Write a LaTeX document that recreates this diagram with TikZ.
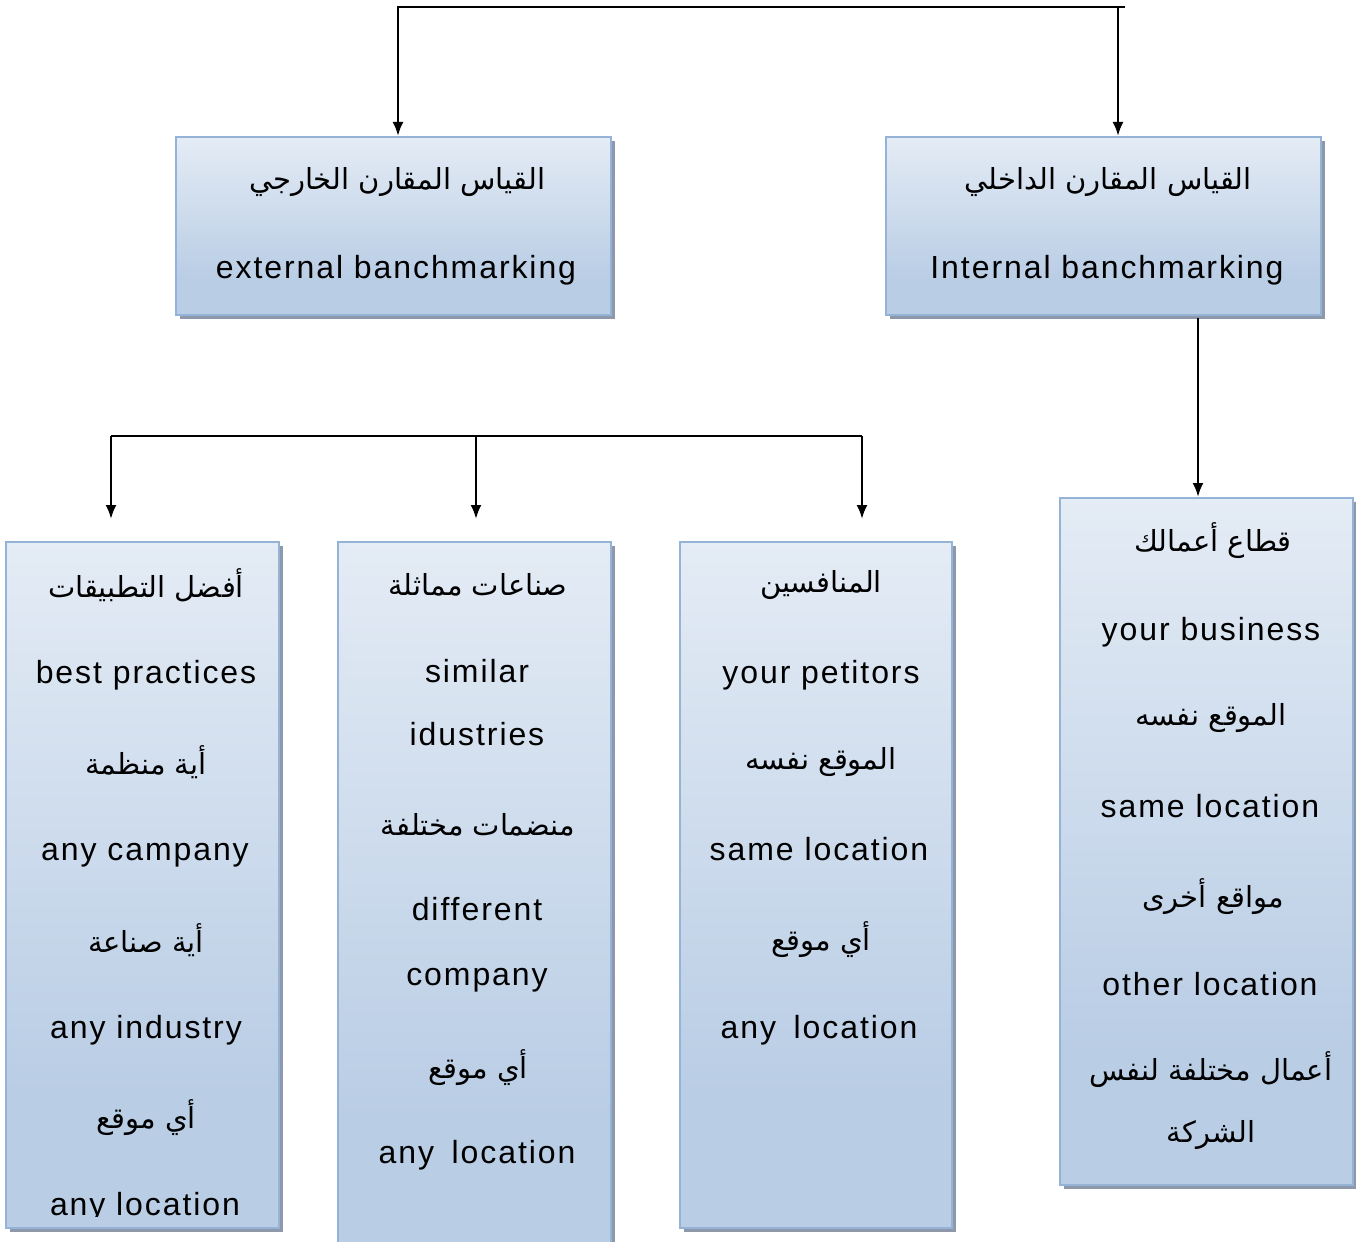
\documentclass[tikz,border=0pt]{standalone}
\usepackage{fontspec}
\setmainfont{Liberation Sans}[LetterSpace=6]
\newfontfamily\arabicfont[Script=Arabic]{DejaVu Sans}
\TeXXeTstate=1
\usetikzlibrary{arrows.meta,shadows}
\definecolor{boxblue}{HTML}{B9CDE5}
\definecolor{boxborder}{HTML}{95B3D7}
\definecolor{shadowgray}{HTML}{8D99AB}
\pgfdeclareverticalshading{boxshade}{100bp}{color(0bp)=(boxblue); color(35bp)=(boxblue); color(100bp)=(white)}
\tikzset{
  box/.style={draw=boxborder, line width=2pt, shading=boxshade, rectangle,
    drop shadow={shadow xshift=4pt, shadow yshift=-4pt, opacity=1, fill=shadowgray}},
  en/.style={font=\fontsize{32}{38}\selectfont, text height=0.72em, text depth=0.2em, inner sep=0pt, yshift=-8pt},
  ar/.style={font=\arabicfont\fontsize{29}{34}\selectfont, inner sep=0pt},
  arr/.style={line width=2.4pt, -{Latex[length=14pt,width=11pt]}},
  ln/.style={line width=2.4pt}
}
\newcommand{\AR}[1]{\beginR #1\endR}
\begin{document}
\begin{tikzpicture}[x=1pt,y=-1pt]
\useasboundingbox (0,0) rectangle (1356,1241);
% boxes
\node[box, minimum width=435pt, minimum height=178pt] (ext) at (393.5,226) {};
\node[box, minimum width=435pt, minimum height=178pt] (int) at (1103.5,226) {};
\node[box, minimum width=293pt, minimum height=687pt] (bus) at (1206.5,841.5) {};
\node[box, minimum width=273pt, minimum height=686pt] (bp) at (142.5,885) {};
\node[box, minimum width=273pt, minimum height=716pt] (sim) at (474.5,900) {};
\node[box, minimum width=272pt, minimum height=686pt] (comp) at (816,885) {};
% connectors
\coordinate (topR) at (1125,7);
\coordinate (topM) at (1118,7);
\draw[arr] (topR) -| ([xshift=4.5pt]ext.north);
\draw[arr] (topM) -- ([xshift=14.5pt]int.north);
\draw[arr] ([xshift=94.5pt,yshift=-2pt]int.south) -- ([xshift=-8.5pt]bus.north);
\coordinate (b1) at (111,436);
\coordinate (b2) at (476,436);
\coordinate (b3) at (862,436);
\coordinate (a1) at (111,519);
\coordinate (a2) at (476,519);
\coordinate (a3) at (862,519);
\draw[ln] (a1 |- b1) -- (b3);
\draw[arr] (b1) -- (a1);
\draw[arr] (b2) -- (a2);
\draw[arr] (b3) -- (a3);
% texts top boxes
\node[ar] (ext1) at (397,182) {\AR{القياس المقارن الخارجي}};
\node[en] (ext2) at (396,268) {external banchmarking};
\node[ar] (int1) at (1108,182) {\AR{القياس المقارن الداخلي}};
\node[en] (int2) at (1107,268) {Internal banchmarking};
% best practices
\node[ar] (bp1) at (146,585) {\AR{أفضل التطبيقات}};
\node[en] (bp2) at (146,673) {best practices};
\node[ar] (bp3) at (146,762) {\AR{أية منظمة}};
\node[en] (bp4) at (145,850) {any campany};
\node[ar] (bp5) at (146,940) {\AR{أية صناعة}};
\node[en] (bp6) at (146,1028) {any industry};
\node[ar] (bp7) at (146,1118) {\AR{أي موقع}};
\begin{scope}
\clip (6,542) rectangle (279,1216);
\node[en] (bp8) at (145,1205) {any location};
\end{scope}
% similar
\node[ar] (sim1) at (478,585) {\AR{صناعات مماثلة}};
\node[en] (sim2) at (477,672) {similar};
\node[en] (sim3) at (477,735) {idustries};
\node[ar] (sim4) at (478,825) {\AR{منضمات مختلفة}};
\node[en] (sim5) at (477,910) {different};
\node[en] (sim6) at (477,975) {company};
\node[ar] (sim7) at (478,1068) {\AR{أي موقع}};
\node[en] (sim8) at (477,1153) {any\hspace{0.55em}location};
% competitors
\node[ar] (comp1) at (821,585) {\AR{المنافسين}};
\node[en] (comp2) at (821,673) {your petitors};
\node[ar] (comp3) at (821,762) {\AR{الموقع نفسه}};
\node[en] (comp4) at (819,850) {same location};
\node[ar] (comp5) at (821,940) {\AR{أي موقع}};
\node[en] (comp6) at (819,1028) {any\hspace{0.55em}location};
% business
\node[ar] (bus1) at (1213,541) {\AR{قطاع أعمالك}};
\node[en] (bus2) at (1211,630) {your business};
\node[ar] (bus3) at (1211,718) {\AR{الموقع نفسه}};
\node[en] (bus4) at (1210,807) {same location};
\node[ar] (bus5) at (1213,897) {\AR{مواقع أخرى}};
\node[en] (bus6) at (1210,985) {other location};
\node[ar] (bus7) at (1211,1070) {\AR{أعمال مختلفة لنفس}};
\node[ar] (bus8) at (1211,1135) {\AR{الشركة}};
\end{tikzpicture}
\end{document}
